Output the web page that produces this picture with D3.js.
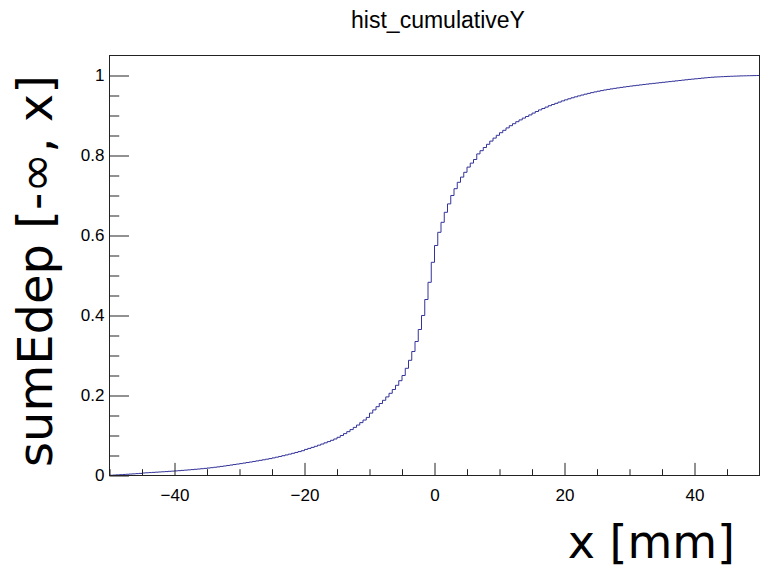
<!DOCTYPE html>
<meta charset="utf-8">
<script src="https://d3js.org/d3.v7.min.js"></script>
<style>
	body{
		margin:0;
		background:#fff;
	}
	svg{
		display:block;
	}
</style>
<div id="chart"></div>

<script>
	var titleText = "hist_cumulativeY"
	var xTitle = "x [mm]"
	var yTitle = "sumEdep [-\u221e, x]"

	// histogram binning
	var xMin = -50
	var xMax = 50
	var binWidth = 0.5

	// cumulative content of each bin (200 bins, -50 .. 50)
	var cumValues = [
		0.0006,0.0011,0.0016,0.0021,0.0026,0.0031,0.0036,0.0041,0.0047,0.0052,  // -50 .. -45
		0.0063,0.0068,0.0073,0.0078,0.0083,0.0088,0.0093,0.0098,0.0104,0.0109,  // -45 .. -40
		0.0115,0.0121,0.0128,0.0134,0.0141,0.0148,0.0155,0.0162,0.0170,0.0178,  // -40 .. -35
		0.0187,0.0196,0.0206,0.0216,0.0227,0.0238,0.0250,0.0262,0.0274,0.0286,  // -35 .. -30
		0.0298,0.0311,0.0324,0.0337,0.0351,0.0365,0.0379,0.0393,0.0408,0.0423,  // -30 .. -25
		0.0440,0.0458,0.0476,0.0495,0.0514,0.0534,0.0555,0.0576,0.0598,0.0620,  // -25 .. -20
		0.0652,0.0677,0.0703,0.0730,0.0758,0.0787,0.0817,0.0848,0.0880,0.0913,  // -20 .. -15
		0.0955,0.1000,0.1047,0.1096,0.1148,0.1203,0.1261,0.1322,0.1386,0.1452,  // -15 .. -10
		0.1560,0.1640,0.1720,0.1800,0.1880,0.1965,0.2055,0.2150,0.2255,0.2370,  // -10 .. -5
		0.2500,0.2680,0.2880,0.3100,0.3350,0.3650,0.4000,0.4400,0.4830,0.5330,  // -5 .. 0
		0.5750,0.6080,0.6330,0.6580,0.6790,0.7000,0.7170,0.7330,0.7460,0.7580,  // 0 .. 5
		0.7710,0.7810,0.7900,0.8040,0.8120,0.8200,0.8280,0.8360,0.8435,0.8505,  // 5 .. 10
		0.8570,0.8630,0.8690,0.8745,0.8795,0.8845,0.8890,0.8935,0.8975,0.9015,  // 10 .. 15
		0.9060,0.9100,0.9140,0.9175,0.9210,0.9245,0.9275,0.9305,0.9335,0.9365,  // 15 .. 20
		0.9392,0.9418,0.9443,0.9467,0.9490,0.9512,0.9533,0.9553,0.9572,0.9590,  // 20 .. 25
		0.9607,0.9623,0.9638,0.9652,0.9665,0.9678,0.9690,0.9702,0.9713,0.9724,  // 25 .. 30
		0.9735,0.9745,0.9755,0.9765,0.9775,0.9785,0.9794,0.9803,0.9812,0.9821,  // 30 .. 35
		0.9830,0.9839,0.9848,0.9857,0.9866,0.9875,0.9884,0.9893,0.9902,0.9910,  // 35 .. 40
		0.9918,0.9926,0.9934,0.9942,0.9950,0.9957,0.9962,0.9966,0.9970,0.9974,  // 40 .. 45
		0.9978,0.9981,0.9984,0.9987,0.9990,0.9992,0.9994,0.9996,0.9998,1.0000   // 45 .. 50
	]

	var xMajorTicks = [-40,-20,0,20,40]
	var xMinorTicks = [-50,-45,-35,-30,-25,-15,-10,-5,5,10,15,25,30,35,45,50]
	var yMajorTicks = [0,0.2,0.4,0.6,0.8,1]
	var yMinorTicks = [0.05,0.1,0.15,0.25,0.3,0.35,0.45,0.5,0.55,0.65,0.7,0.75,0.85,0.9,0.95]
	var yMax = 1.05

	var w = 760
	var h = 568
	var frame = {left:109.5, right:759.5, top:55.5, bottom:475.5}
	var lineColor = "#333399"

	var svg = d3.select("#chart").append("svg").attr("width",w).attr("height",h)

	var x = d3.scaleLinear().domain([xMin,xMax]).range([frame.left,frame.right])
	var y = d3.scaleLinear().domain([0,yMax]).range([frame.bottom,frame.top])

	// histogram outline (steps)
	var pts = [[xMin,0]]
	cumValues.forEach(function(v,i){
		var lo = xMin+i*binWidth
		pts.push([lo,v])
		pts.push([lo+binWidth,v])
	})
	pts.push([xMax,0])

	var line = d3.line().x(function(d){return x(d[0])}).y(function(d){return y(d[1])})
	svg.append("path").attr("d",line(pts))
		.attr("fill","none").attr("stroke",lineColor).attr("stroke-width",1)

	// frame
	svg.append("rect").attr("x",frame.left).attr("y",frame.top)
		.attr("width",frame.right-frame.left).attr("height",frame.bottom-frame.top)
		.attr("fill","none").attr("stroke","#222").attr("stroke-width",1)

	var fh = frame.bottom-frame.top
	var fw = frame.right-frame.left

	// x axis (ticks pointing up into the frame)
	var xAxisMajor = d3.axisBottom(x).tickValues(xMajorTicks).tickSizeInner(-0.03*fh).tickSizeOuter(0)
		.tickPadding(8).tickFormat(d3.format("d"))
	var gx = svg.append("g").attr("transform","translate(0,"+frame.bottom+")").call(xAxisMajor)
	gx.select(".domain").remove()
	gx.selectAll("text").attr("font-family","'Liberation Sans', Arial, sans-serif").attr("font-size",17).attr("fill","#000")
		.attr("dy","1em")
	gx.selectAll("line").attr("stroke","#222")

	var gxm = svg.append("g").attr("transform","translate(0,"+frame.bottom+")")
		.call(d3.axisBottom(x).tickValues(xMinorTicks).tickSizeInner(-0.015*fh).tickSizeOuter(0).tickFormat(""))
	gxm.select(".domain").remove()
	gxm.selectAll("line").attr("stroke","#222")

	// y axis (ticks pointing right into the frame)
	var yAxisMajor = d3.axisLeft(y).tickValues(yMajorTicks).tickSizeInner(-0.03*fw).tickSizeOuter(0)
		.tickPadding(5).tickFormat(d3.format("~g"))
	var gy = svg.append("g").attr("transform","translate("+frame.left+",0)").call(yAxisMajor)
	gy.select(".domain").remove()
	gy.selectAll("text").attr("font-family","'Liberation Sans', Arial, sans-serif").attr("font-size",17).attr("fill","#000")
	gy.selectAll("line").attr("stroke","#222")

	var gym = svg.append("g").attr("transform","translate("+frame.left+",0)")
		.call(d3.axisLeft(y).tickValues(yMinorTicks).tickSizeInner(-0.015*fw).tickSizeOuter(0).tickFormat(""))
	gym.select(".domain").remove()
	gym.selectAll("line").attr("stroke","#222")

	// title
	svg.append("text").text(titleText)
		.attr("x",438).attr("y",28).attr("text-anchor","middle")
		.attr("font-family","'Liberation Sans', Arial, sans-serif").attr("font-size",23).attr("fill","#000")

	// axis titles
	svg.append("text").text(xTitle)
		.attr("x",735).attr("y",558).attr("text-anchor","end")
		.attr("font-family","'DejaVu Sans', sans-serif").attr("font-size",46).attr("fill","#000")

	svg.append("text").text(yTitle)
		.attr("transform","translate(52,75) rotate(-90)").attr("text-anchor","end")
		.attr("font-family","'DejaVu Sans', sans-serif").attr("font-size",48).attr("fill","#000")
</script>
